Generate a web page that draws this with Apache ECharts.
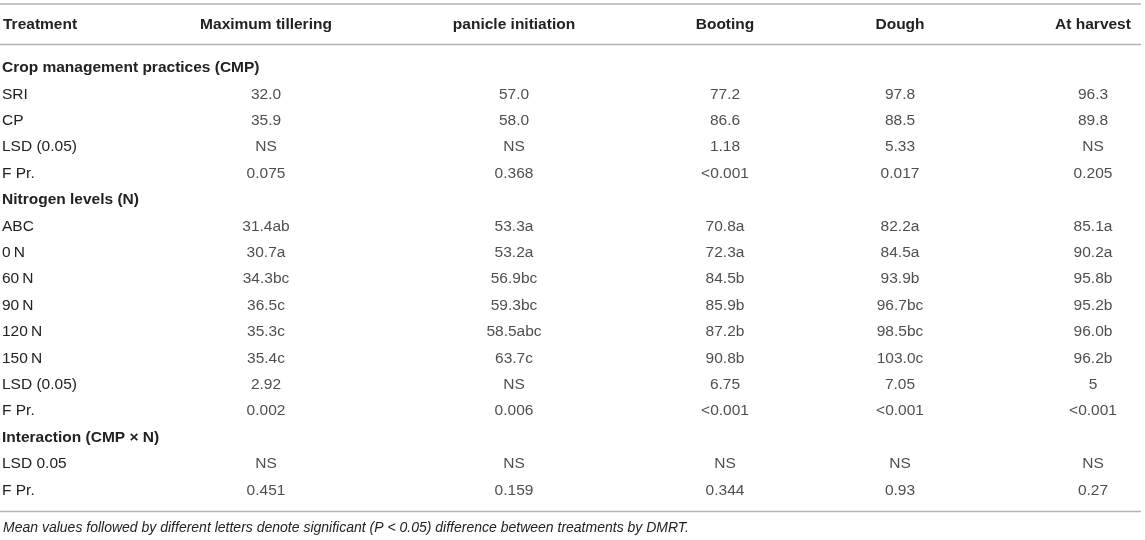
<!DOCTYPE html>
<html>
<head>
<meta charset="utf-8">
<script src="https://cdn.jsdelivr.net/npm/echarts@6/dist/echarts.min.js"></script>
<style>
html, body {margin: 0; padding: 0; background: #fff;}
#main {width: 1145px; height: 540px;}
</style>
</head>
<body>
<div id="main"></div>
<script>
// table content
var columns = ['Treatment', 'Maximum tillering', 'panicle initiation', 'Booting', 'Dough', 'At harvest'];
var rows = ['Crop management practices (CMP)', 'SRI', 'CP', 'LSD (0.05)', 'F Pr.',
    'Nitrogen levels (N)', 'ABC', '0\u2009N', '60\u2009N', '90\u2009N', '120\u2009N', '150\u2009N', 'LSD (0.05)', 'F Pr.',
    'Interaction (CMP \u00d7 N)', 'LSD 0.05', 'F Pr.'];
var groupRows = ['Crop management practices (CMP)', 'Nitrogen levels (N)', 'Interaction (CMP \u00d7 N)'];

var maxTillering = ['', '32.0', '35.9', 'NS', '0.075', '', '31.4ab', '30.7a', '34.3bc', '36.5c', '35.3c', '35.4c', '2.92', '0.002', '', 'NS', '0.451'];
var panicleInit = ['', '57.0', '58.0', 'NS', '0.368', '', '53.3a', '53.2a', '56.9bc', '59.3bc', '58.5abc', '63.7c', 'NS', '0.006', '', 'NS', '0.159'];
var booting = ['', '77.2', '86.6', '1.18', '<0.001', '', '70.8a', '72.3a', '84.5b', '85.9b', '87.2b', '90.8b', '6.75', '<0.001', '', 'NS', '0.344'];
var dough = ['', '97.8', '88.5', '5.33', '0.017', '', '82.2a', '84.5a', '93.9b', '96.7bc', '98.5bc', '103.0c', '7.05', '<0.001', '', 'NS', '0.93'];
var atHarvest = ['', '96.3', '89.8', 'NS', '0.205', '', '85.1a', '90.2a', '95.8b', '95.2b', '96.0b', '96.2b', '5', '<0.001', '', 'NS', '0.27'];

var footnote = 'Mean values followed by different letters denote significant (P < 0.05) difference between treatments by DMRT.';

var cells = [null, maxTillering, panicleInit, booting, dough, atHarvest];

// look
var FONT = '"Liberation Sans", Arial, Helvetica, sans-serif';
var INK = '#222';
var RULE = '#b3b3b3';
var FS = 15.5;

// layout (px)
var colCenter = [2, 266, 514, 725, 900, 1093];
var colW = 80;
var bodyTop = 54.8;
var rowH = 26.4;

var myChart = echarts.init(document.getElementById('main'), null, {renderer: 'canvas'});

var grid = [], xAxis = [], yAxis = [], series = [];
for (var c = 0; c < columns.length; c++) {
    var w = c === 0 ? 2 : colW;
    grid.push({
        left: c === 0 ? colCenter[0] : colCenter[c] - w / 2,
        width: w,
        top: bodyTop,
        height: rowH * rows.length,
        outerBoundsMode: 'none'
    });
    xAxis.push({
        type: 'category',
        gridIndex: c,
        position: 'top',
        data: [columns[c]],
        axisLine: {show: false},
        axisTick: {show: false},
        splitLine: {show: false},
        axisLabel: {
            margin: 22,
            fontFamily: FONT,
            fontSize: FS,
            fontWeight: 'bold',
            color: INK,
            align: c === 0 ? 'left' : 'center'
        }
    });
    yAxis.push({
        type: 'category',
        gridIndex: c,
        inverse: true,
        data: rows,
        axisLine: {show: false},
        axisTick: {show: false},
        splitLine: {show: false},
        axisLabel: c === 0 ? {
            show: true,
            inside: true,
            margin: 0,
            interval: 0,
            align: 'left',
            fontFamily: FONT,
            fontSize: FS,
            color: INK,
            formatter: function (v) {
                return groupRows.indexOf(v) >= 0 ? '{b|' + v + '}' : v;
            },
            rich: {
                b: {fontFamily: FONT, fontSize: FS, fontWeight: 'bold', color: INK}
            }
        } : {show: false}
    });

    if (c === 0) continue;
    var data = [];
    for (var i = 0; i < rows.length; i++) {
        if (cells[c][i] === '') continue;
        data.push({name: cells[c][i], value: [0, i]});
    }
    series.push({
        type: 'scatter',
        xAxisIndex: c,
        yAxisIndex: c,
        symbolSize: 1,
        silent: true,
        itemStyle: {color: 'rgba(0,0,0,0)'},
        label: {
            show: true,
            position: 'inside',
            formatter: '{b}',
            fontFamily: FONT,
            fontSize: FS,
            color: INK
        },
        data: data
    });
}

function rule(y) {
    return {
        type: 'line',
        shape: {x1: 0, y1: y, x2: 1141, y2: y},
        style: {stroke: RULE, lineWidth: 1.5}
    };
}

option = {
    backgroundColor: '#fff',
    animation: false,
    grid: grid,
    xAxis: xAxis,
    yAxis: yAxis,
    series: series,
    graphic: [
        rule(4),
        rule(44.5),
        rule(511.5),
        {
            type: 'text',
            left: 3,
            top: 521,
            style: {
                text: footnote,
                font: 'italic 14px ' + FONT,
                fill: INK
            }
        }
    ]
};
myChart.setOption(option);
</script>
</body>
</html>
